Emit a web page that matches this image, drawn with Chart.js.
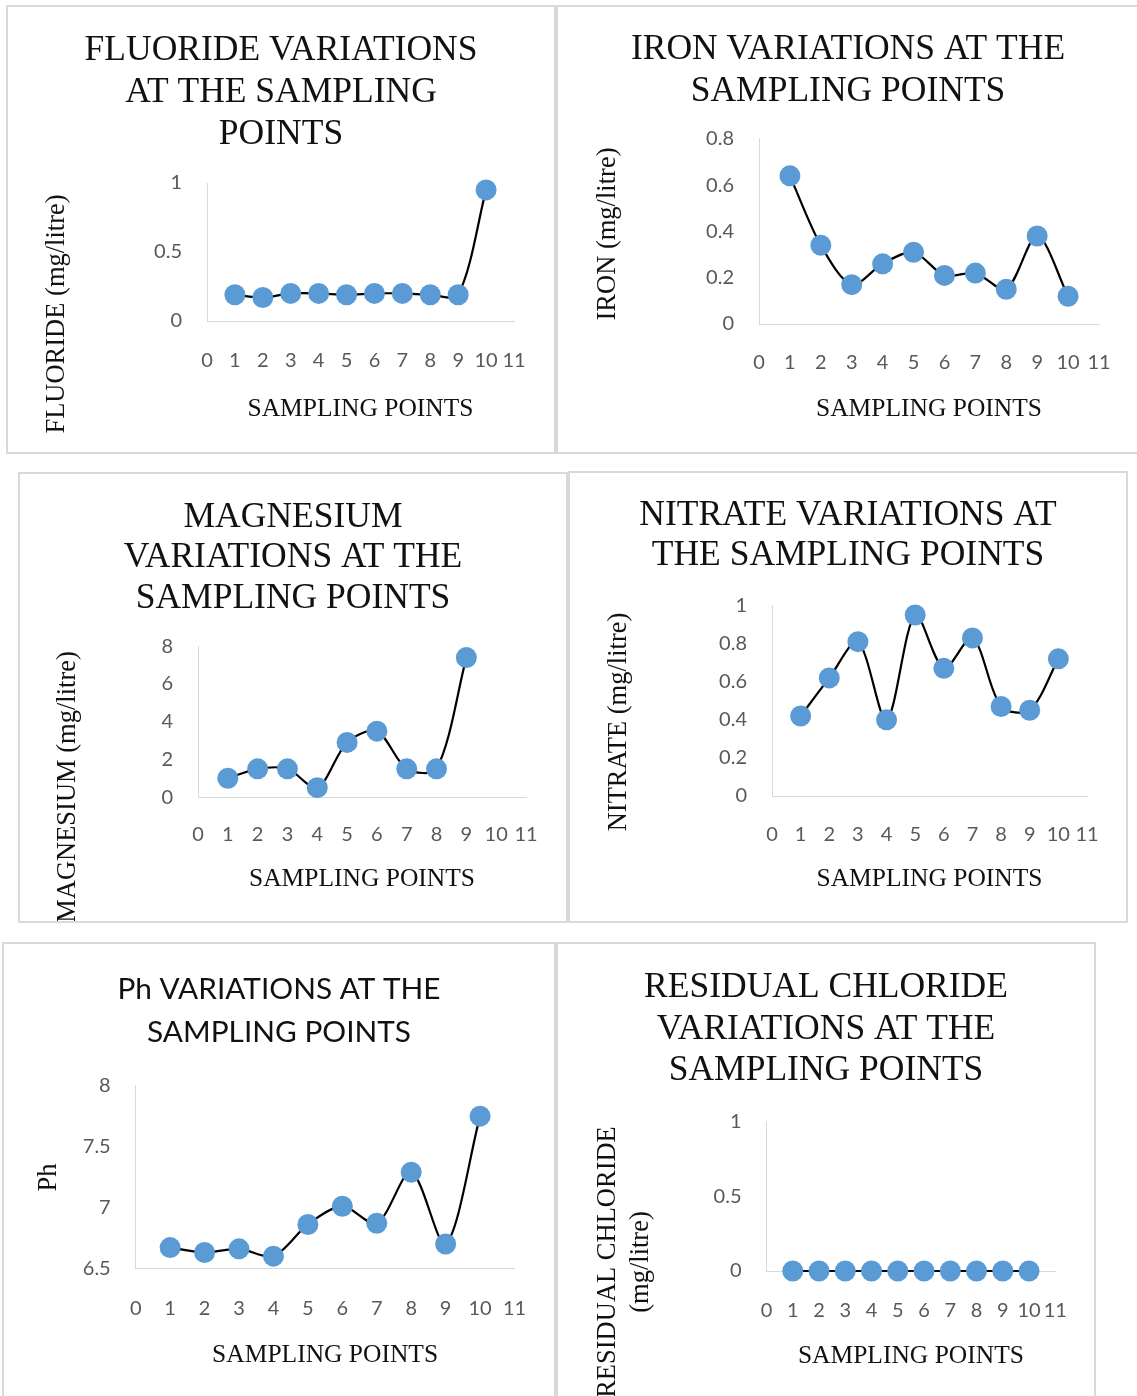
<!DOCTYPE html>
<html>
<head>
<meta charset="utf-8">
<title>Water quality variations at the sampling points</title>
<script src="https://cdn.jsdelivr.net/npm/chart.js@4.4.1/dist/chart.umd.min.js"></script>
<style>
  html, body { margin: 0; padding: 0; background: #fff; overflow: hidden; }
  body { width: 1137px; height: 1396px; position: relative; }
  .panel { position: absolute; box-sizing: border-box; border: 2px solid #d9d9d9; background: #fff; }
  .panel canvas { display: block; }
</style>
</head>
<body>
<div class="panel" style="left:6px;top:5px;width:550px;height:449px"><canvas id="fluorideChart" width="546" height="445"></canvas></div>
<div class="panel" style="left:556px;top:5px;width:584px;height:449px"><canvas id="ironChart" width="580" height="445"></canvas></div>
<div class="panel" style="left:18px;top:472px;width:550px;height:451px"><canvas id="magnesiumChart" width="546" height="447"></canvas></div>
<div class="panel" style="left:568px;top:471px;width:560px;height:452px"><canvas id="nitrateChart" width="556" height="448"></canvas></div>
<div class="panel" style="left:2px;top:942px;width:554px;height:460px"><canvas id="phChart" width="550" height="456"></canvas></div>
<div class="panel" style="left:556px;top:942px;width:540px;height:460px"><canvas id="chlorideChart" width="536" height="456"></canvas></div>

<script>
// Sampling point numbers (x values)
const samplingPoints = [1, 2, 3, 4, 5, 6, 7, 8, 9, 10];
const xRange = [0, 11];

// Measured values at each sampling point
const fluoride = [0.19, 0.17, 0.2, 0.2, 0.19, 0.2, 0.2, 0.19, 0.19, 0.95];
const iron = [0.64, 0.34, 0.17, 0.26, 0.31, 0.21, 0.22, 0.15, 0.38, 0.12];
const magnesium = [1.0, 1.5, 1.5, 0.5, 2.9, 3.5, 1.5, 1.5, 7.4];
const nitrate = [0.42, 0.62, 0.81, 0.40, 0.95, 0.67, 0.83, 0.47, 0.45, 0.72];
const ph = [6.67, 6.63, 6.66, 6.6, 6.86, 7.01, 6.87, 7.29, 6.7, 7.75];
const residualChloride = [0, 0, 0, 0, 0, 0, 0, 0, 0, 0];

// Value axis ranges: [min, max, step]
const fluorideAxis = [0, 1, 0.5];
const ironAxis = [0, 0.8, 0.2];
const magnesiumAxis = [0, 8, 2];
const nitrateAxis = [0, 1, 0.2];
const phAxis = [6.5, 8, 0.5];
const chlorideAxis = [0, 1, 0.5];

// Text
const xAxisTitle = 'SAMPLING POINTS';
const fluorideTitle = ['FLUORIDE VARIATIONS', 'AT THE SAMPLING', 'POINTS'];
const ironTitle = ['IRON VARIATIONS AT THE', 'SAMPLING POINTS'];
const magnesiumTitle = ['MAGNESIUM', 'VARIATIONS AT THE', 'SAMPLING POINTS'];
const nitrateTitle = ['NITRATE VARIATIONS AT', 'THE SAMPLING POINTS'];
const phTitle = ['Ph VARIATIONS AT THE', 'SAMPLING POINTS'];
const chlorideTitle = ['RESIDUAL CHLORIDE', 'VARIATIONS AT THE', 'SAMPLING POINTS'];
const fluorideUnit = ['FLUORIDE (mg/litre)'];
const ironUnit = ['IRON (mg/litre)'];
const magnesiumUnit = ['MAGNESIUM (mg/litre)'];
const nitrateUnit = ['NITRATE (mg/litre)'];
const phUnit = ['Ph'];
const chlorideUnit = ['RESIDUAL CHLORIDE', '(mg/litre)'];

const SERIF = '"Liberation Serif", "Times New Roman", serif';
const SANS = 'Lato, "Open Sans", sans-serif';
const MARKER = '#5B9BD5';
const AXIS_LINE = '#d9d9d9';
const TICK_TEXT = '#595959';
const TEXT = '#111111';

// Tick numbers without trailing zeros (1, 0.5, 7.5 ...)
const plainNumber = (value) => String(Number(value.toFixed(2)));

// Rotated value-axis caption drawn beside the plot
function sideCaption(lines, cx, cy, gap) {
  return {
    id: 'sideCaption',
    afterDraw(chart) {
      const ctx = chart.ctx;
      ctx.save();
      ctx.font = '26.5px ' + SERIF;
      ctx.fillStyle = TEXT;
      ctx.textAlign = 'center';
      ctx.textBaseline = 'middle';
      lines.forEach((line, i) => {
        ctx.save();
        ctx.translate(cx + i * gap, cy);
        ctx.rotate(-Math.PI / 2);
        ctx.fillText(line, 0, 0);
        ctx.restore();
      });
      ctx.restore();
    }
  };
}

function buildChart(id, values, axis, title, unit, look) {
  const points = values.map((v, i) => ({ x: samplingPoints[i], y: v }));
  const titleSize = look.titleSize;
  return new Chart(document.getElementById(id), {
    type: 'line',
    data: {
      datasets: [{
        data: points,
        borderColor: '#000000',
        borderWidth: 2.2,
        tension: 0.3,
        fill: false,
        clip: false,
        pointRadius: 10.5,
        pointHoverRadius: 10.5,
        pointBackgroundColor: MARKER,
        pointBorderColor: MARKER,
        pointBorderWidth: 0
      }]
    },
    options: {
      responsive: false,
      animation: false,
      events: [],
      layout: { padding: { left: look.side, right: look.side, top: 0, bottom: look.bottom } },
      plugins: {
        legend: { display: false },
        tooltip: { enabled: false },
        title: {
          display: true,
          text: title,
          color: TEXT,
          font: { family: look.titleFont, size: titleSize, weight: 'normal', lineHeight: look.titleLine / titleSize },
          padding: { top: look.titleTop, bottom: look.titleBottom }
        }
      },
      scales: {
        x: {
          type: 'linear',
          min: xRange[0],
          max: xRange[1],
          ticks: {
            stepSize: 1, autoSkip: false, maxRotation: 0, minRotation: 0,
            padding: look.xTickPad, color: TICK_TEXT,
            font: { family: SANS, size: 20 },
            callback: plainNumber
          },
          grid: { drawOnChartArea: false, drawTicks: false, color: 'rgba(0,0,0,0)' },
          border: { display: true, color: AXIS_LINE, width: 1 },
          title: {
            display: true, text: xAxisTitle, color: TEXT, padding: 0,
            font: { family: SERIF, size: 25.5, lineHeight: 1.2 }
          },
          afterFit(scale) { scale.height = look.xHeight; }
        },
        y: {
          type: 'linear',
          min: axis[0],
          max: axis[1],
          ticks: {
            stepSize: axis[2], padding: 25, color: TICK_TEXT,
            font: { family: SANS, size: 20 },
            callback: plainNumber
          },
          grid: { drawOnChartArea: false, drawTicks: false, color: 'rgba(0,0,0,0)' },
          border: { display: true, color: AXIS_LINE, width: 1 },
          afterFit(scale) { scale.width = look.yWidth; }
        }
      }
    },
    plugins: [sideCaption(unit, look.capX, look.capY, look.capGap || 0)]
  });
}

buildChart('fluorideChart', fluoride, fluorideAxis, fluorideTitle, fluorideUnit, {
  titleFont: SERIF, titleSize: 35.5, titleLine: 41.7, titleTop: 23, titleBottom: 27.9,
  side: 40, bottom: 27.3, yWidth: 159, xHeight: 103.7, xTickPad: 28,
  capX: 49, capY: 307
});

buildChart('ironChart', iron, ironAxis, ironTitle, ironUnit, {
  titleFont: SERIF, titleSize: 35.5, titleLine: 41.2, titleTop: 22.5, titleBottom: 26.9,
  side: 39, bottom: 27.7, yWidth: 162, xHeight: 100.3, xTickPad: 27,
  capX: 50, capY: 227
});

buildChart('magnesiumChart', magnesium, magnesiumAxis, magnesiumTitle, magnesiumUnit, {
  titleFont: SERIF, titleSize: 35.5, titleLine: 40.6, titleTop: 23.2, titleBottom: 27.3,
  side: 40, bottom: 26.1, yWidth: 138, xHeight: 97.8, xTickPad: 25.3,
  capX: 48, capY: 313
});

buildChart('nitrateChart', nitrate, nitrateAxis, nitrateTitle, nitrateUnit, {
  titleFont: SERIF, titleSize: 35.5, titleLine: 40.1, titleTop: 22.9, titleBottom: 29.4,
  side: 39, bottom: 26.1, yWidth: 163, xHeight: 98.9, xTickPad: 26.4,
  capX: 49, capY: 249
});

buildChart('phChart', ph, phAxis, phTitle, phUnit, {
  titleFont: SANS, titleSize: 29.8, titleLine: 43, titleTop: 23.5, titleBottom: 32.2,
  side: 39.5, bottom: 29.7, yWidth: 92.2, xHeight: 102, xTickPad: 27.8,
  capX: 45, capY: 233.5
});

buildChart('chlorideChart', residualChloride, chlorideAxis, chlorideTitle, chlorideUnit, {
  titleFont: SERIF, titleSize: 35.5, titleLine: 41.65, titleTop: 22.7, titleBottom: 30.05,
  side: 38, bottom: 28.7, yWidth: 170.5, xHeight: 100.3, xTickPad: 27.1,
  capX: 50, capY: 318, capGap: 33
});
</script>
</body>
</html>
